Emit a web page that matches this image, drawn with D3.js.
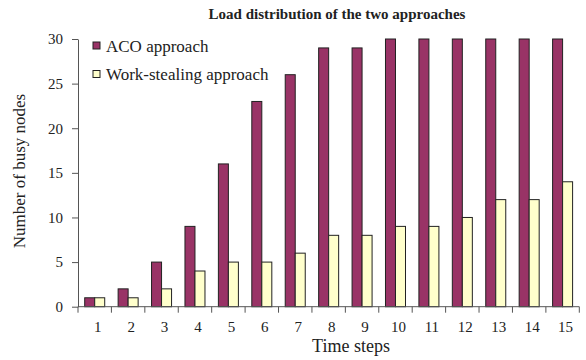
<!DOCTYPE html>
<html>
<head>
<meta charset="utf-8">
<script src="https://cdn.jsdelivr.net/npm/d3@7/dist/d3.min.js"></script>
<style>
  html, body { margin: 0; padding: 0; background: #fff; }
  svg { display: block; }
  svg text { font-family: "Liberation Serif", "Times New Roman", serif !important; fill: #222; }
</style>
</head>
<body>
<svg id="chart" width="586" height="360" font-family="Liberation Serif, serif"></svg>
<script>
// Busy nodes per time step for the two load-balancing approaches
const timeSteps = ["1","2","3","4","5","6","7","8","9","10","11","12","13","14","15"];
const seriesNames = ["ACO approach", "Work-stealing approach"];
const acoValues = [1, 2, 5, 9, 16, 23, 26, 29, 29, 30, 30, 30, 30, 30, 30];
const workStealingValues = [1, 1, 2, 4, 5, 5, 6, 8, 8, 9, 9, 10, 12, 12, 14];
const yTicks = [0, 5, 10, 15, 20, 25, 30];
const seriesColors = ["#993366", "#FFFFCC"];

const FONT = "'Liberation Serif', 'Times New Roman', serif";
const svg = d3.select("#chart");
const plot = { left: 78, right: 579.3, top: 39, bottom: 306.7 };

const x = d3.scaleBand().domain(timeSteps).range([plot.left, plot.right]).padding(0);
const x1 = d3.scaleBand().domain(seriesNames).range([0, x.bandwidth()])
  .paddingInner(0).paddingOuter(0.67);
const y = d3.scaleLinear().domain([0, 30]).range([plot.bottom, plot.top]);
const color = d3.scaleOrdinal().domain(seriesNames).range(seriesColors);

const rows = timeSteps.map((t, i) => ({
  step: t,
  values: [
    { name: seriesNames[0], value: acoValues[i] },
    { name: seriesNames[1], value: workStealingValues[i] }
  ]
}));

// Bars
const groups = svg.append("g").selectAll("g")
  .data(rows).join("g")
  .attr("transform", d => `translate(${x(d.step)},0)`);

groups.selectAll("rect")
  .data(d => d.values).join("rect")
  .attr("x", d => x1(d.name))
  .attr("y", d => y(d.value))
  .attr("width", x1.bandwidth())
  .attr("height", d => y(0) - y(d.value))
  .attr("fill", d => color(d.name))
  .attr("stroke", "#222")
  .attr("stroke-width", 1);

// Y axis
const yAxis = svg.append("g")
  .attr("transform", `translate(${plot.left},0)`)
  .call(d3.axisLeft(y).tickValues(yTicks).tickSize(6).tickSizeOuter(0).tickPadding(9));
yAxis.attr("font-family", FONT);
yAxis.select(".domain").attr("stroke", "#555");
yAxis.selectAll(".tick line").attr("stroke", "#555");
yAxis.selectAll(".tick text")
  .attr("font-size", 15)
  .style("font-family", FONT)
  .attr("fill", "#222");

// X axis: ticks sit on category boundaries
const xAxis = svg.append("g")
  .attr("transform", `translate(0,${plot.bottom})`);
xAxis.append("line")
  .attr("x1", plot.left).attr("x2", plot.right)
  .attr("stroke", "#555");
const boundaries = timeSteps.map(t => x(t)).concat([plot.right]);
xAxis.selectAll("line.tk").data(boundaries).join("line")
  .attr("class", "tk")
  .attr("x1", d => d).attr("x2", d => d)
  .attr("y1", 0).attr("y2", 6)
  .attr("stroke", "#555");
xAxis.selectAll("text").data(timeSteps).join("text")
  .attr("x", d => x(d) + x.bandwidth() / 2 + 3)
  .attr("y", 25)
  .attr("text-anchor", "middle")
  .attr("font-size", 15)
  .style("font-family", FONT)
  .text(d => d);

// Title and axis labels
svg.append("text")
  .attr("x", 337).attr("y", 19)
  .attr("text-anchor", "middle")
  .attr("font-size", 15)
  .attr("font-weight", "bold")
  .style("font-family", FONT)
  .text("Load distribution of the two approaches");

svg.append("text")
  .attr("x", 351).attr("y", 352)
  .attr("text-anchor", "middle")
  .attr("font-size", 18)
  .style("font-family", FONT)
  .text("Time steps");

svg.append("text")
  .attr("transform", "translate(25,171) rotate(-90)")
  .attr("text-anchor", "middle")
  .attr("font-size", 17)
  .style("font-family", FONT)
  .text("Number of busy nodes");

// Legend
const legend = svg.append("g");
const legendRows = legend.selectAll("g").data(seriesNames).join("g")
  .attr("transform", (d, i) => `translate(93,${42 + i * 28.5})`);
legendRows.append("rect")
  .attr("width", 7).attr("height", 7)
  .attr("fill", d => color(d))
  .attr("stroke", "#222");
legendRows.append("text")
  .attr("x", 13).attr("y", 9.5)
  .attr("font-size", 17)
  .style("font-family", FONT)
  .text(d => d);
</script>
</body>
</html>
